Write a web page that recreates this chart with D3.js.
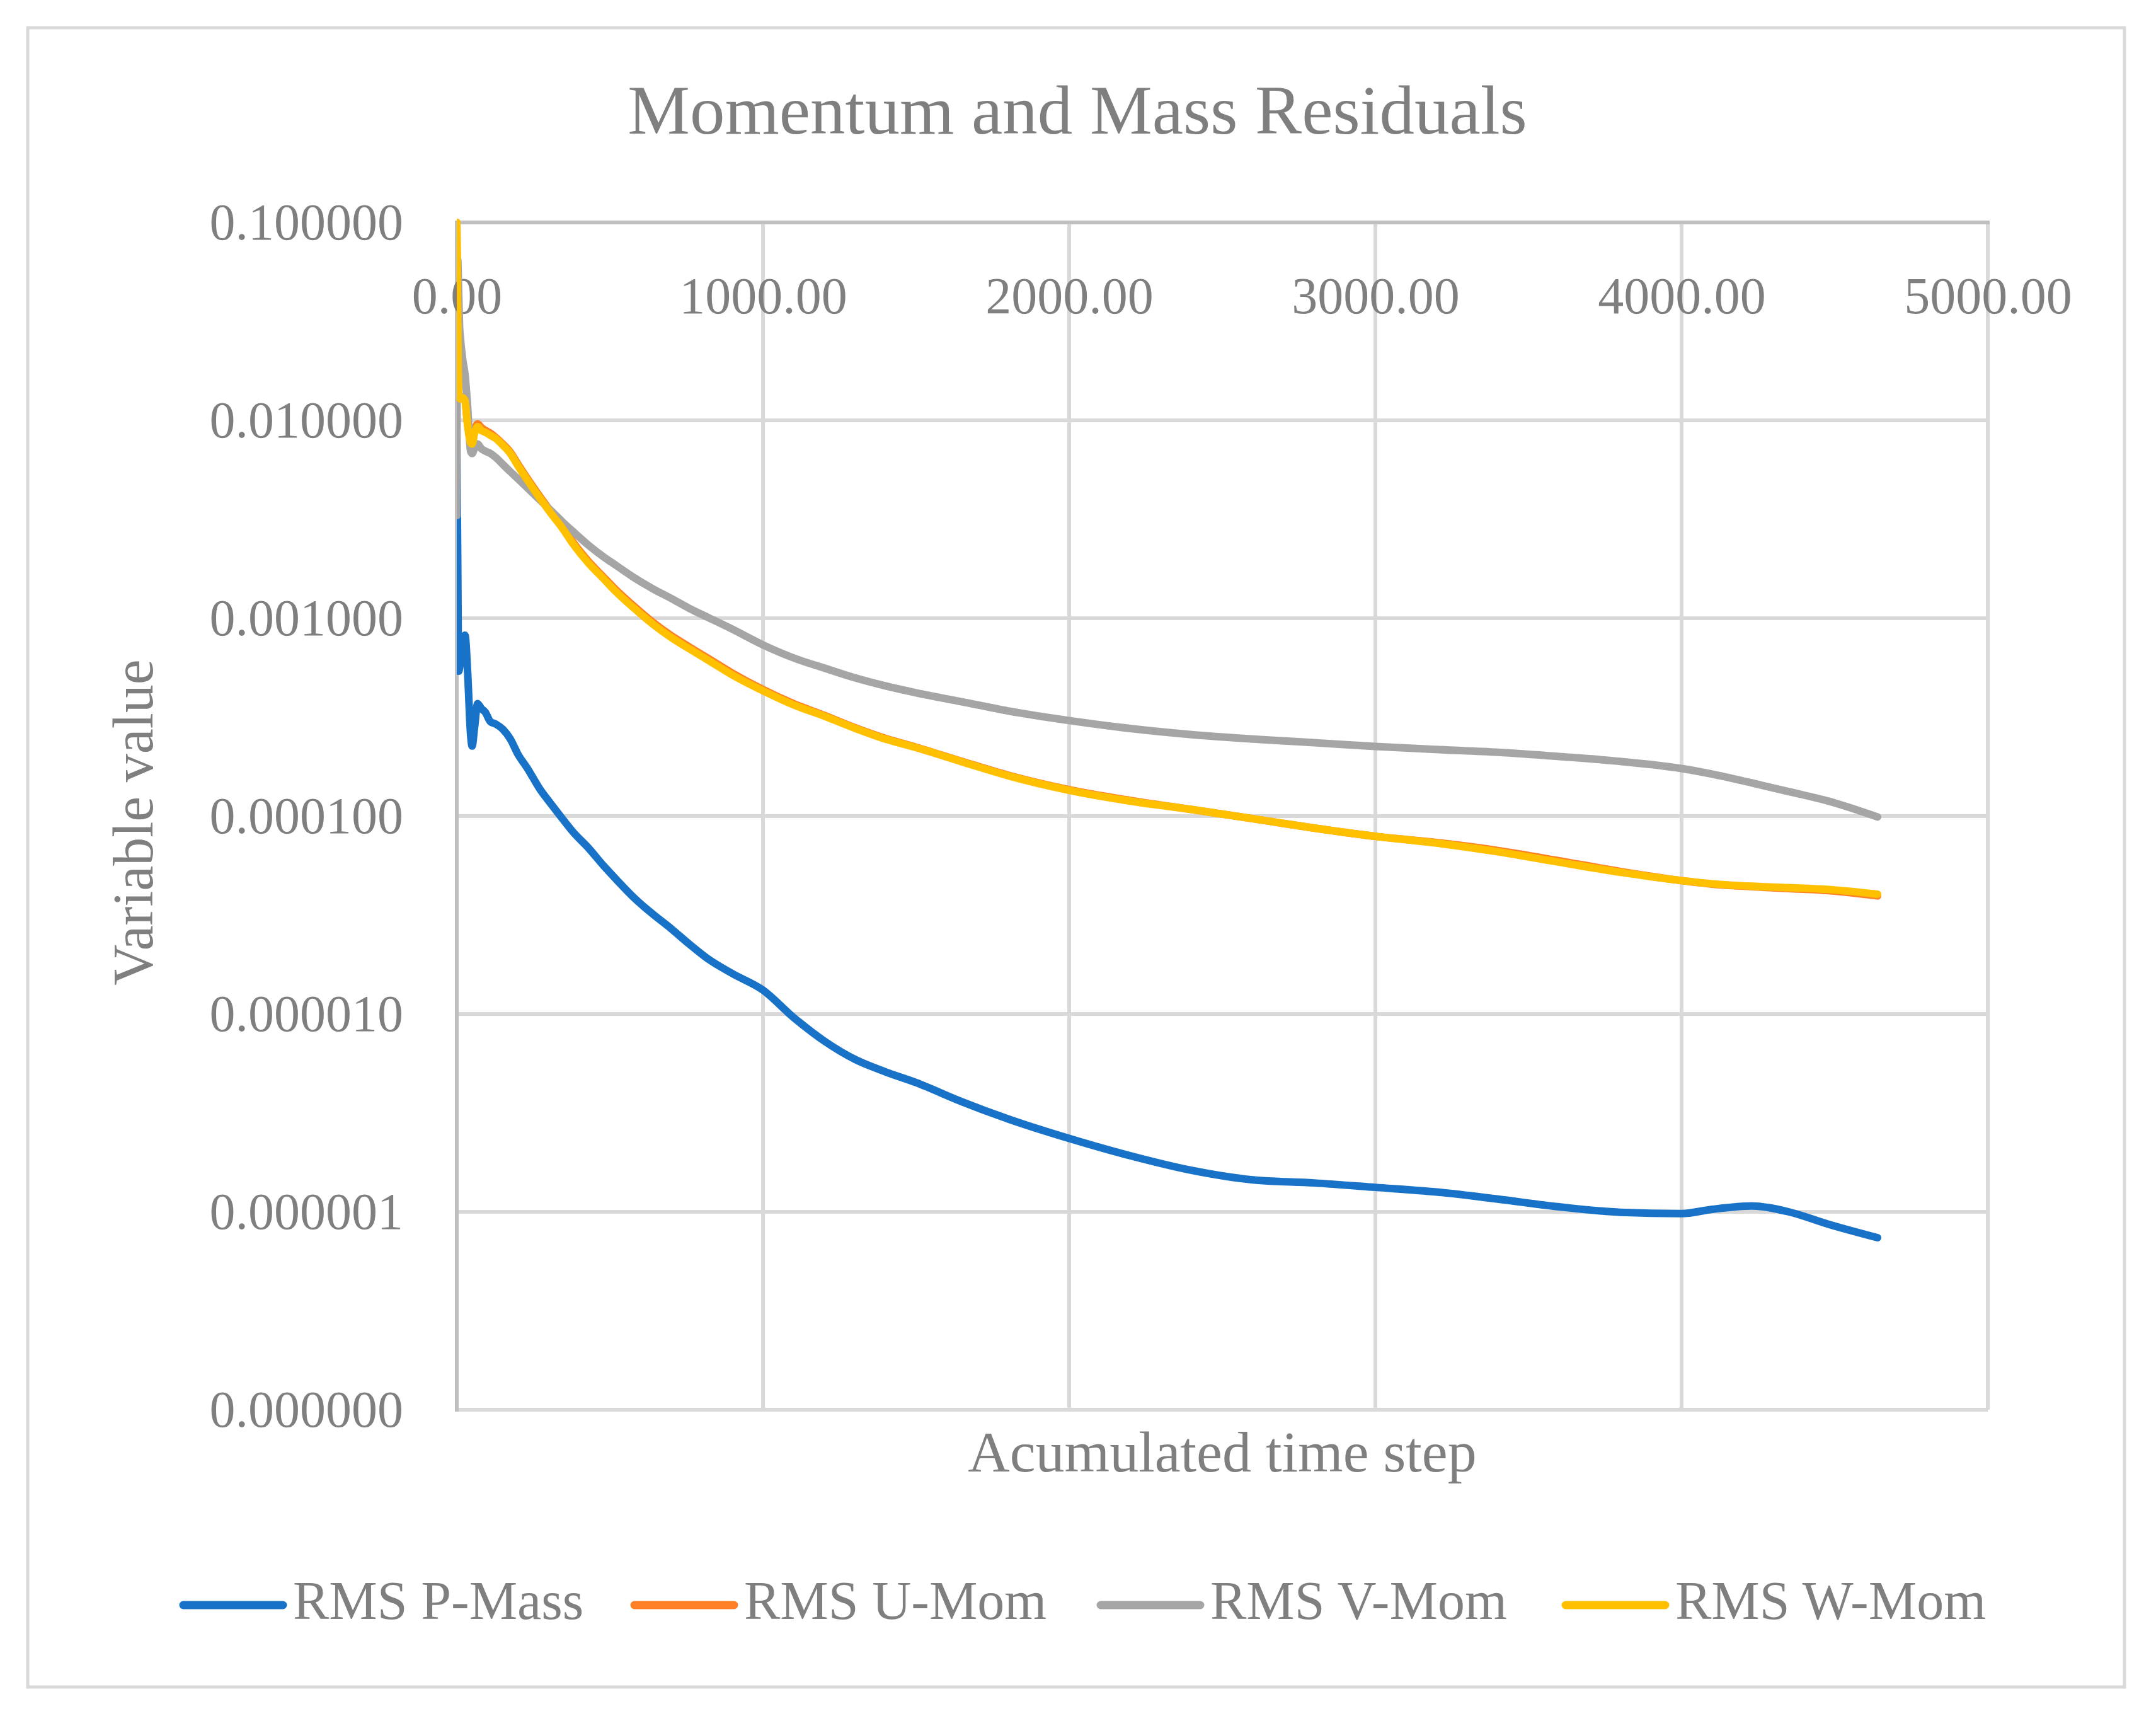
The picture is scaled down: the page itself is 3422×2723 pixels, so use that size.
<!DOCTYPE html>
<html lang="en">
<head>
    <meta charset="UTF-8">
    <title>Momentum and Mass Residuals</title>
    <script src="https://cdn.jsdelivr.net/npm/d3@7"></script>
    <style>
        body {
          margin: 0;
          background: #fff;
        }
        text {
          font-family: "Liberation Serif", "DejaVu Serif", serif;
          fill: #7f7f7f;
        }
    </style>
</head>
<body>
    <script>
        // accumulated time step (shared by all four series)
        let steps = [0, 3, 6, 9, 12, 20, 27, 35, 45, 50, 58, 68, 80, 93, 110, 127, 150, 175, 200, 230,
                     270, 310, 345, 380, 430, 480, 520, 580, 640, 700, 760, 820, 900, 1000, 1100, 1200,
                     1300, 1400, 1500, 1650, 1800, 2000, 2200, 2400, 2600, 2800, 3000, 3200, 3400, 3600,
                     3800, 4000, 4100, 4230, 4350, 4480, 4640];

        let pMass = [8.5e-3, 2.0e-3, 5.4e-4, 5.6e-4, 6.2e-4, 7.0e-4, 8.2e-4, 5.5e-4, 2.6e-4, 2.26e-4,
                     2.8e-4, 3.7e-4, 3.5e-4, 3.35e-4, 3.0e-4, 2.92e-4, 2.75e-4, 2.45e-4, 2.05e-4, 1.75e-4,
                     1.38e-4, 1.14e-4, 9.7e-5, 8.3e-5, 6.9e-5, 5.6e-5, 4.8e-5, 3.85e-5, 3.2e-5, 2.7e-5,
                     2.25e-5, 1.9e-5, 1.6e-5, 1.32e-5, 9.6e-6, 7.3e-6, 5.9e-6, 5.1e-6, 4.5e-6, 3.6e-6,
                     2.95e-6, 2.35e-6, 1.92e-6, 1.62e-6, 1.45e-6, 1.40e-6, 1.33e-6, 1.26e-6, 1.16e-6, 1.06e-6,
                     9.95e-7, 9.8e-7, 1.03e-6, 1.07e-6, 1.0e-6, 8.65e-7, 7.4e-7];

        let uMom = [0.1, 0.036, 0.0136, 0.0131, 0.0129, 0.0131, 0.0126, 9.7e-3, 7.9e-3, 7.8e-3,
                    8.9e-3, 9.6e-3, 9.2e-3, 8.9e-3, 8.6e-3, 8.2e-3, 7.6e-3, 6.9e-3, 6.0e-3, 5.1e-3,
                    4.15e-3, 3.42e-3, 2.91e-3, 2.42e-3, 1.94e-3, 1.61e-3, 1.39e-3, 1.145e-3, 9.55e-4, 8.17e-4,
                    7.15e-4, 6.28e-4, 5.28e-4, 4.36e-4, 3.7e-4, 3.23e-4, 2.8e-4, 2.47e-4, 2.23e-4, 1.89e-4,
                    1.61e-4, 1.36e-4, 1.2e-4, 1.08e-4, 9.7e-5, 8.7e-5, 7.9e-5, 7.35e-5, 6.7e-5, 5.95e-5,
                    5.25e-5, 4.72e-5, 4.53e-5, 4.4e-5, 4.3e-5, 4.2e-5, 3.95e-5];

        let vMom = [3.3e-3, 0.065, 0.045, 0.03, 0.026, 0.02, 0.017, 0.012, 7.0e-3, 6.8e-3,
                    7.2e-3, 7.6e-3, 7.2e-3, 7.0e-3, 6.8e-3, 6.5e-3, 6.0e-3, 5.5e-3, 5.06e-3, 4.57e-3,
                    3.98e-3, 3.47e-3, 3.07e-3, 2.74e-3, 2.34e-3, 2.04e-3, 1.85e-3, 1.6e-3, 1.41e-3, 1.26e-3,
                    1.12e-3, 1.01e-3, 8.8e-4, 7.33e-4, 6.3e-4, 5.6e-4, 5.0e-4, 4.55e-4, 4.2e-4, 3.78e-4,
                    3.4e-4, 3.04e-4, 2.77e-4, 2.58e-4, 2.45e-4, 2.35e-4, 2.25e-4, 2.17e-4, 2.1e-4, 2.0e-4,
                    1.89e-4, 1.74e-4, 1.63e-4, 1.47e-4, 1.33e-4, 1.19e-4, 9.9e-5];

        let wMom = [0.1, 0.035, 0.0135, 0.013, 0.0128, 0.013, 0.0125, 9.5e-3, 7.7e-3, 7.6e-3,
                    8.6e-3, 9.3e-3, 8.9e-3, 8.7e-3, 8.4e-3, 8.1e-3, 7.5e-3, 6.8e-3, 5.89e-3, 5.01e-3,
                    4.07e-3, 3.35e-3, 2.85e-3, 2.37e-3, 1.9e-3, 1.58e-3, 1.36e-3, 1.12e-3, 9.35e-4, 8.0e-4,
                    7.0e-4, 6.15e-4, 5.17e-4, 4.3e-4, 3.65e-4, 3.2e-4, 2.78e-4, 2.45e-4, 2.22e-4, 1.88e-4,
                    1.6e-4, 1.35e-4, 1.19e-4, 1.08e-4, 9.7e-5, 8.7e-5, 7.9e-5, 7.3e-5, 6.6e-5, 5.85e-5,
                    5.2e-5, 4.72e-5, 4.55e-5, 4.42e-5, 4.35e-5, 4.26e-5, 4.03e-5];

        let seriesNames = ['RMS P-Mass', 'RMS U-Mom', 'RMS V-Mom', 'RMS W-Mom'];
        let seriesColors = ['#1873c8', '#ff7f27', '#a5a5a5', '#ffc000'];
        let xTicks = [0, 1000, 2000, 3000, 4000, 5000];
        let yTicks = [0.1, 0.01, 0.001, 0.0001, 0.00001, 0.000001, 0.0000001];

        let w = 3422;
        let h = 2723;
        let plotL = 725, plotR = 3155, plotT = 353, plotB = 2237;

        let svg = d3.select('body')
                    .append('svg')
                    .attr('width', w)
                    .attr('height', h)

        // outer chart frame
        svg.append('rect')
           .attr('x', 44).attr('y', 44)
           .attr('width', 3328).attr('height', 2633)
           .attr('fill', '#fff')
           .attr('stroke', '#d9d9d9')
           .attr('stroke-width', 5)

        let x = d3.scaleLinear().domain([0, 5000]).range([plotL, plotR]);
        let y = d3.scaleLog().domain([1e-7, 0.1]).range([plotB, plotT]);

        // grid
        svg.append('g').selectAll('line')
           .data(xTicks.slice(1))
           .enter().append('line')
           .attr('x1', d => x(d)).attr('x2', d => x(d))
           .attr('y1', plotT).attr('y2', plotB)
           .attr('stroke', '#d9d9d9').attr('stroke-width', 6)

        svg.append('g').selectAll('line')
           .data(yTicks.slice(1))
           .enter().append('line')
           .attr('x1', plotL).attr('x2', plotR)
           .attr('y1', d => y(d)).attr('y2', d => y(d))
           .attr('stroke', '#d9d9d9').attr('stroke-width', 6)

        // axis lines: vertical on the left, horizontal across the top
        svg.append('line')
           .attr('x1', plotL).attr('x2', plotL).attr('y1', plotT).attr('y2', plotB + 3)
           .attr('stroke', '#bfbfbf').attr('stroke-width', 6)
        svg.append('line')
           .attr('x1', plotL - 3).attr('x2', plotR + 3).attr('y1', plotT).attr('y2', plotT)
           .attr('stroke', '#bfbfbf').attr('stroke-width', 6)

        // tick labels
        let yAxis = svg.append('g')
                       .attr('transform', 'translate(' + plotL + ',0)')
                       .call(d3.axisLeft(y).tickValues(yTicks).tickFormat(d3.format('.6f')).tickSize(0).tickPadding(85));
        let xAxis = svg.append('g')
                       .attr('transform', 'translate(0,' + plotT + ')')
                       .call(d3.axisBottom(x).tickValues(xTicks).tickFormat(d3.format('.2f')).tickSize(0).tickPadding(86));
        [yAxis, xAxis].forEach(function(a) {
            a.select('.domain').remove();
            a.selectAll('text')
             .attr('fill', '#7f7f7f')
             .style('font-family', '"Liberation Serif", serif')
             .style('font-size', '82px');
        });

        // series
        svg.append('clipPath').attr('id', 'plot')
           .append('rect').attr('x', plotL).attr('y', plotT - 8)
           .attr('width', plotR - plotL).attr('height', plotB - plotT + 8)

        let line = d3.line()
                     .x(d => x(d[0]))
                     .y(d => y(d[1]))
                     .curve(d3.curveMonotoneX);

        [pMass, uMom, vMom, wMom].forEach(function(vals, i) {
            svg.append('path')
               .attr('clip-path', 'url(#plot)')
               .attr('d', line(steps.map((t, k) => [t, vals[k]])))
               .attr('fill', 'none')
               .attr('stroke', seriesColors[i])
               .attr('stroke-width', 12)
               .attr('stroke-linejoin', 'round')
               .attr('stroke-linecap', 'round');
        });

        // titles
        svg.append('text')
           .attr('x', 1710).attr('y', 212)
           .attr('text-anchor', 'middle')
           .style('font-size', '111px')
           .text('Momentum and Mass Residuals')

        svg.append('text')
           .attr('x', 1940).attr('y', 2335)
           .attr('text-anchor', 'middle')
           .style('font-size', '92px')
           .text('Acumulated time step')

        svg.append('text')
           .attr('transform', 'translate(242,1305) rotate(-90)')
           .attr('text-anchor', 'middle')
           .style('font-size', '90px')
           .text('Variable value')

        // legend
        let legendX = [285, 1001, 1741, 2479];
        let legend = svg.append('g').selectAll('g')
                        .data(seriesNames)
                        .enter().append('g')
                        .attr('transform', (d, i) => 'translate(' + legendX[i] + ',2547)');
        legend.append('line')
              .attr('x1', 6).attr('x2', 164)
              .attr('stroke', (d, i) => seriesColors[i])
              .attr('stroke-width', 13)
              .attr('stroke-linecap', 'round');
        legend.append('text')
              .attr('x', 180).attr('y', 22)
              .style('font-size', '86px')
              .text(d => d);
    </script>
</body>
</html>
